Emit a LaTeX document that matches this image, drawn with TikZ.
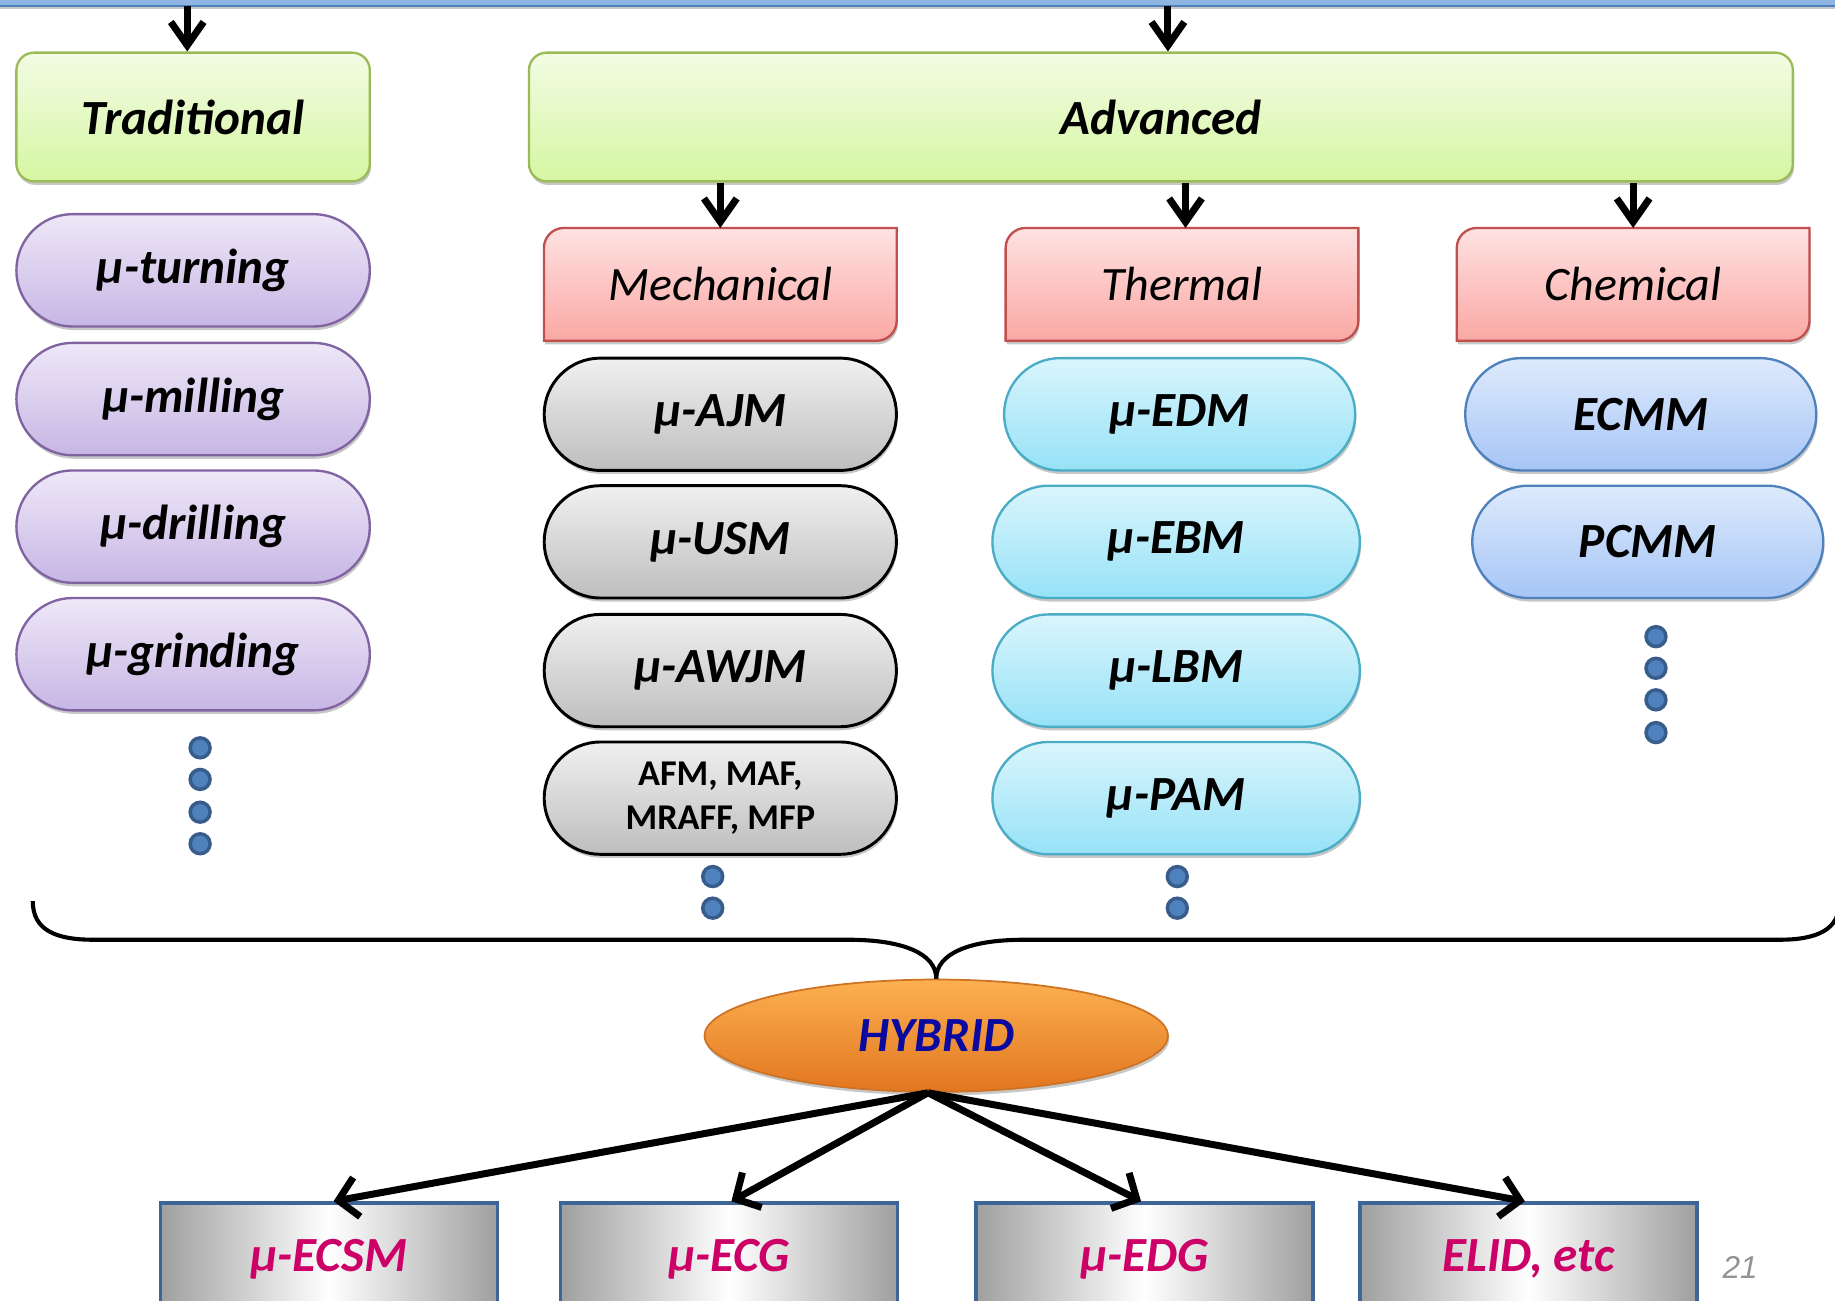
\documentclass[tikz,border=0pt]{standalone}
\usepackage{fontspec}
\setmainfont{Carlito}
\newfontfamily\numfont{Liberation Sans}
\usetikzlibrary{shapes.misc,shapes.geometric,arrows.meta,shadows}
\definecolor{grnT}{RGB}{242,252,228}
\definecolor{grnB}{RGB}{214,246,162}
\definecolor{grnD}{RGB}{155,187,89}
\definecolor{purT}{RGB}{238,232,248}
\definecolor{purB}{RGB}{199,182,228}
\definecolor{purD}{RGB}{128,100,162}
\definecolor{pnkT}{RGB}{254,226,226}
\definecolor{pnkB}{RGB}{250,168,164}
\definecolor{pnkD}{RGB}{192,80,77}
\definecolor{gryT}{RGB}{240,240,240}
\definecolor{gryB}{RGB}{190,190,190}
\definecolor{cyaT}{RGB}{218,245,252}
\definecolor{cyaB}{RGB}{150,226,247}
\definecolor{cyaD}{RGB}{75,172,198}
\definecolor{bluT}{RGB}{222,234,252}
\definecolor{bluB}{RGB}{166,197,246}
\definecolor{bluD}{RGB}{79,129,189}
\definecolor{dotF}{RGB}{79,129,189}
\definecolor{dotD}{RGB}{56,93,138}
\definecolor{orT}{RGB}{252,176,80}
\definecolor{orB}{RGB}{226,118,32}
\definecolor{orD}{RGB}{205,115,35}
\definecolor{hybT}{RGB}{10,10,160}
\definecolor{botD}{RGB}{61,101,150}
\definecolor{botT}{RGB}{204,0,102}
\definecolor{topL}{RGB}{141,180,227}
\newcommand\bipfont{\bfseries\itshape\fontsize{42}{46}\selectfont}
\begin{document}
\begin{tikzpicture}[x=1pt,y=-1pt,
  shad/.style={drop shadow={shadow xshift=1pt,shadow yshift=-3pt,opacity=0.22,fill=black}},
  greenbox/.style={rectangle,rounded corners=15pt,draw=grnD,line width=2pt,top color=grnT,bottom color=grnB,minimum height=110pt,inner sep=0pt,font=\bipfont,shad},
  pill/.style={rounded rectangle,minimum height=96pt,inner sep=0pt,line width=2pt,font=\bipfont,shad},
  purpill/.style={pill,draw=purD,top color=purT,bottom color=purB,minimum width=302pt},
  grypill/.style={pill,draw=black,line width=2.5pt,top color=gryT,bottom color=gryB,minimum width=301pt},
  cyapill/.style={pill,draw=cyaD,top color=cyaT,bottom color=cyaB},
  blupill/.style={pill,draw=bluD,top color=bluT,bottom color=bluB,minimum width=300pt},
  catframe/.style={rectangle,minimum width=301pt,minimum height=96pt,inner sep=0pt},
  cattext/.style={inner sep=0pt,font=\itshape\fontsize{41}{44}\selectfont},
  catfill/.style={draw=pnkD,line width=2pt,top color=pnkT,bottom color=pnkB,shad},
  dot/.style={circle,minimum size=17pt,inner sep=0pt,fill=dotF,draw=dotD,line width=3pt},
  botbox/.style={rectangle,minimum width=288pt,minimum height=96pt,inner sep=0pt,draw=botD,line width=3pt,left color=gray!75,right color=gray!75,middle color=white,font=\bipfont,text=botT},
  toparr/.style={line width=6pt,-{Straight Barb[length=20pt,width=28pt]}},
  botarr/.style={line width=6pt,-{Straight Barb[length=16pt,width=34pt]}}]
\useasboundingbox (0,0) rectangle (1568,1111);
\clip (0,0) rectangle (1568,1111);
% top bar
\filldraw[fill=topL,draw=bluD,line width=1.5pt,shad] (-10,-10) rectangle (1578,5);
\coordinate (topT) at (160,5);
\coordinate (topA) at (998,5);
% main boxes
\node[greenbox,minimum width=302pt] (trad) at (165,100) {Traditional};
\node[greenbox,minimum width=1080pt] (adv) at (992,100) {Advanced};
\draw[toparr] (topT) -- (topT |- trad.north);
\draw[toparr] (topA) -- (topA |- adv.north);
% traditional column
\node[purpill] (p1) at (165,231) {μ-turning};
\node[purpill] (p2) at (165,341) {μ-milling};
\node[purpill] (p3) at (165,450) {μ-drilling};
\node[purpill] (p4) at (165,559) {μ-grinding};
\node[dot] (td1) at (171,639) {};
\node[dot] (td2) at (171,666) {};
\node[dot] (td3) at (171,694) {};
\node[dot] (td4) at (171,721) {};
% category boxes: frame, shape (round top-left and bottom-right), then text
\foreach \nm/\cx in {mechF/615.5,thermF/1010,chemF/1395.5}{
  \node[catframe] (\nm) at (\cx,243) {};
  \shadedraw[catfill] (\nm.south west) -- ([yshift=-17pt]\nm.north west)
     arc[start angle=180,end angle=90,radius=17pt] -- (\nm.north east) -- ([yshift=17pt]\nm.south east)
     arc[start angle=0,end angle=-90,radius=17pt] -- cycle;
}
\node[cattext] (mech) at (mechF) {Mechanical};
\node[cattext] (therm) at (thermF) {Thermal};
\node[cattext] (chem) at (chemF) {Chemical};
\draw[toparr] (mechF.north |- adv.south) -- (mechF.north);
\draw[toparr] ([xshift=3pt]thermF.north |- adv.south) -- ([xshift=3pt]thermF.north);
\draw[toparr] (chemF.north |- adv.south) -- (chemF.north);
% mechanical column
\node[grypill] (g1) at (615.5,354) {μ-AJM};
\node[grypill] (g2) at (615.5,463) {μ-USM};
\node[grypill] (g3) at (615.5,573) {μ-AWJM};
\node[grypill,align=center,font=\bfseries\fontsize{31}{38}\selectfont] (g4) at (615.5,682) {AFM, MAF,\\MRAFF, MFP};
\node[dot] (md1) at (609,749) {};
\node[dot] (md2) at (609,776) {};
% thermal column
\node[cyapill,minimum width=300pt] (c1) at (1008,354) {μ-EDM};
\node[cyapill,minimum width=314pt] (c2) at (1005,463) {μ-EBM};
\node[cyapill,minimum width=314pt] (c3) at (1005,573) {μ-LBM};
\node[cyapill,minimum width=314pt] (c4) at (1005,682) {μ-PAM};
\node[dot] (hd1) at (1006,749) {};
\node[dot] (hd2) at (1006,776) {};
% chemical column
\node[blupill] (b1) at (1402,354) {ECMM};
\node[blupill] (b2) at (1408,463) {PCMM};
\node[dot] (cd1) at (1415,544) {};
\node[dot] (cd2) at (1415,571) {};
\node[dot] (cd3) at (1415,598) {};
\node[dot] (cd4) at (1415,626) {};
% hybrid
\node[ellipse,minimum width=396pt,minimum height=96pt,inner sep=0pt,draw=orD,line width=1.5pt,top color=orT,bottom color=orB,shad,font=\bipfont,text=hybT] (hyb) at (800,885) {HYBRID};
% brace
\draw[line width=3.5pt] (28,770) .. controls (28,795) and (48,803) .. (80,803) -- (725,803) .. controls (772,803) and (800,815) .. (hyb.north);
\draw[line width=3.5pt] (1572,770) .. controls (1572,795) and (1552,803) .. (1520,803) -- (875,803) .. controls (828,803) and (800,815) .. (hyb.north);
% bottom boxes
\node[botbox] (e1) at (281,1076) {μ-ECSM};
\node[botbox] (e2) at (623,1076) {μ-ECG};
\node[botbox] (e3) at (978,1076) {μ-EDG};
\node[botbox] (e4) at (1306,1076) {ELID, etc};
\coordinate (hs) at ([xshift=-7pt]hyb.south);
\draw[botarr] (hs) -- ([xshift=4pt]e1.north);
\draw[botarr] (hs) -- ([xshift=2pt]e2.north);
\draw[botarr] (hs) -- ([xshift=-3pt]e3.north);
\draw[botarr] (hs) -- ([xshift=-3pt]e4.north);
\node[font=\numfont\itshape\fontsize{27}{30}\selectfont,text=gray!85] (pg) at (1487,1083) {21};
\end{tikzpicture}
\end{document}
